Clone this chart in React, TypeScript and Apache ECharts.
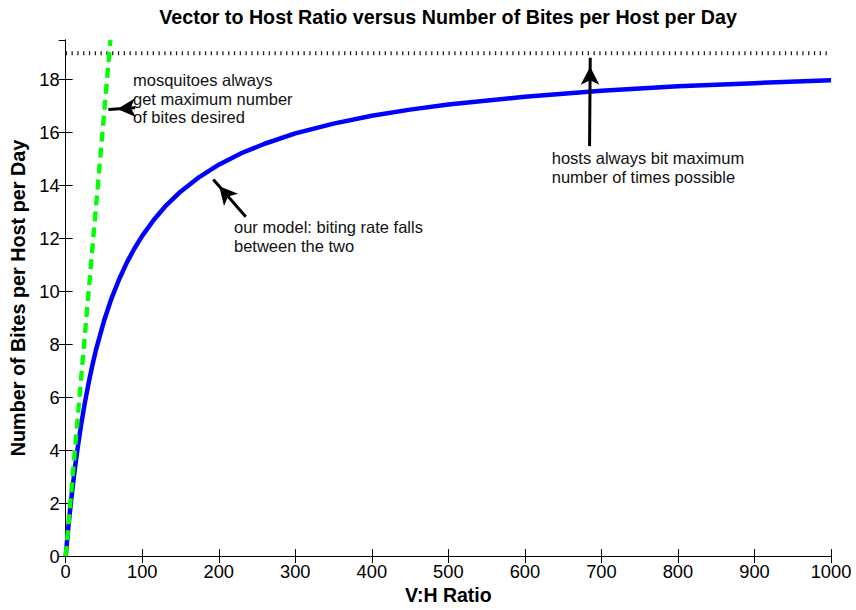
import React, { useEffect, useRef } from "react";
import * as echarts from "echarts";

// V:H ratio values (x) and model biting rate (y)
const modelX = [0, 1, 2, 3, 5, 7, 10, 13, 16, 20, 25, 30, 35, 40, 50, 60, 70, 80, 90, 100, 115, 130, 150, 175, 200, 230, 260, 300, 350, 400, 450, 500, 600, 700, 800, 900, 1000];
const modelY = [0, 0.33, 0.64, 0.95, 1.53, 2.08, 2.84, 3.53, 4.16, 4.94, 5.79, 6.55, 7.23, 7.84, 8.88, 9.75, 10.47, 11.1, 11.63, 12.1, 12.7, 13.21, 13.77, 14.33, 14.79, 15.23, 15.58, 15.97, 16.34, 16.64, 16.87, 17.06, 17.36, 17.58, 17.75, 17.87, 17.98];

// "mosquitoes always get maximum number of bites desired" line
const mosqX = [0, 58.5];
const mosqY = [0, 19.5];

// "hosts always bit maximum number of times possible" line
const hostX = [0, 1000];
const hostY = [19, 19];

const xTicks = { min: 0, max: 1000, interval: 100 };
const yTicks = { min: 0, max: 19.5, interval: 2 };

// annotation arrows: [tailX, tailY, tipX, tipY]
const arrowMosq = [90.6, 16.94, 55.7, 16.87];
const arrowModel = [235.3, 12.82, 192.9, 14.23];
const arrowHost = [684.5, 15.49, 685.4, 18.83];

const FONT = "'Liberation Sans', Arial, Helvetica, sans-serif";

export default function App() {
  const ref = useRef<HTMLDivElement>(null);
  useEffect(() => {
    if (!ref.current) return;
    const chart = echarts.init(ref.current, undefined, { renderer: "svg" });
    const zip = (xs: number[], ys: number[]) => xs.map((x, i) => [x, ys[i]]);
    const arrow = (a: number[]) => [{ coord: [a[0], a[1]] }, { coord: [a[2], a[3]] }];
    const annText = (x: number, y: number, text: string) => ({
      type: "text",
      x,
      y,
      silent: true,
      style: {
        text,
        fill: "#111",
        font: `16.5px ${FONT}`,
        lineHeight: 18.7,
        textAlign: "left",
        textVerticalAlign: "top",
      },
    });
    const axisCommon = {
      type: "value",
      splitLine: { show: false },
      axisLine: { show: true, lineStyle: { color: "#000", width: 1 } },
      axisTick: { show: true, inside: true, length: 7, lineStyle: { color: "#000", width: 1 } },
    };
    chart.setOption({
      animation: false,
      backgroundColor: "#fff",
      textStyle: { fontFamily: FONT },
      grid: { left: 65.7, right: 25, top: 40, bottom: 53, containLabel: false },
      xAxis: [
        {
          ...axisCommon,
          position: "bottom",
          ...xTicks,
          name: "V:H Ratio",
          nameLocation: "middle",
          nameGap: 27,
          nameTextStyle: { fontSize: 19.5, fontWeight: "bold", color: "#000", fontFamily: FONT },
          axisLabel: {
            fontSize: 18.3,
            color: "#000",
            margin: 6,
            fontFamily: FONT,
            formatter: (v: number) => String(v),
          },
        },
        {
          ...axisCommon,
          position: "top",
          ...xTicks,
          axisLabel: { show: false },
        },
      ],
      yAxis: [
        {
          ...axisCommon,
          position: "left",
          ...yTicks,
          name: "Number of Bites per Host per Day",
          nameLocation: "middle",
          nameGap: 34,
          nameTextStyle: { fontSize: 19.8, fontWeight: "bold", color: "#000", fontFamily: FONT },
          axisLabel: { fontSize: 18.3, color: "#000", margin: 6, fontFamily: FONT, showMaxLabel: false },
        },
        {
          ...axisCommon,
          position: "right",
          ...yTicks,
          axisLabel: { show: false },
        },
      ],
      series: [
        {
          type: "line",
          name: "host max",
          data: zip(hostX, hostY),
          symbol: "none",
          silent: true,
          lineStyle: { color: "#222", width: 4, type: [1.3, 4.5], cap: "butt" },
          markLine: {
            silent: true,
            symbol: ["none", "arrow"],
            symbolSize: [14, 18],
            symbolOffset: [0, [0, 9]],
            label: { show: false },
            lineStyle: { color: "#000", width: 3, type: "solid" },
            data: [arrow(arrowMosq), arrow(arrowModel), arrow(arrowHost)],
          },
        },
        {
          type: "line",
          name: "model",
          data: zip(modelX, modelY),
          symbol: "none",
          smooth: false,
          silent: true,
          lineStyle: { color: "#0000ff", width: 4.5, join: "round" },
        },
        {
          type: "line",
          name: "mosquito max",
          data: zip(mosqX, mosqY),
          symbol: "none",
          silent: true,
          lineStyle: { color: "#00ff00", width: 4.3, type: [10, 6], cap: "butt" },
        },
      ],
      graphic: [
        {
          type: "text",
          x: 448,
          y: 17,
          silent: true,
          style: {
            text: "Vector to Host Ratio versus Number of Bites per Host per Day",
            fill: "#000",
            font: `bold 19.7px ${FONT}`,
            textAlign: "center",
            textVerticalAlign: "middle",
          },
        },
        annText(133, 70.5, "mosquitoes always\nget maximum number\nof bites desired"),
        annText(234, 218, "our model: biting rate falls\nbetween the two"),
        annText(551.7, 149, "hosts always bit maximum\nnumber of times possible"),
      ],
    });
    return () => chart.dispose();
  }, []);
  return (
    <div
      ref={ref}
      style={{ position: "fixed", left: 0, top: 0, width: 856, height: 610, background: "#fff" }}
    />
  );
}
